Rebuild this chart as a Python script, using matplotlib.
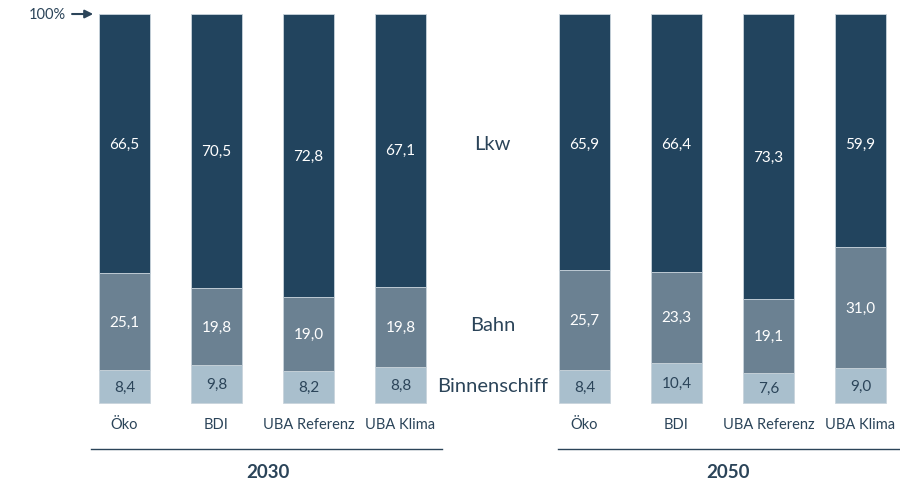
import matplotlib
matplotlib.use("Agg")
import matplotlib.pyplot as plt
import numpy as np

plt.rcParams['font.family'] = ['Lato', 'DejaVu Sans']

# Modal split of freight transport by scenario (percent)
scenarios = ["Öko", "BDI", "UBA Referenz", "UBA Klima"]
years = ["2030", "2050"]
modes = ["Lkw", "Bahn", "Binnenschiff"]

lkw_2030 = [66.5, 70.5, 72.8, 67.1]
bahn_2030 = [25.1, 19.8, 19.0, 19.8]
schiff_2030 = [8.4, 9.8, 8.2, 8.8]

lkw_2050 = [65.9, 66.4, 73.3, 59.9]
bahn_2050 = [25.7, 23.3, 19.1, 31.0]
schiff_2050 = [8.4, 10.4, 7.6, 9.0]

col_lkw = "#22445e"
col_bahn = "#6b8192"
col_schiff = "#a9bfcd"
col_text = "#2b4459"
edge = "#c9d4dc"

fig = plt.figure(figsize=(9, 4.85), dpi=100)
ax = fig.add_axes([0, 0, 1, 1])
ax.set_xlim(-1.353, 8.429)
ax.set_ylim(-20.82, 103.86)
ax.axis("off")

width = 0.555

def fmt(v):
    return f"{v:.1f}".replace(".", ",")

groups = [
    (np.arange(4), lkw_2030, bahn_2030, schiff_2030),
    (np.arange(4) + 5, lkw_2050, bahn_2050, schiff_2050),
]

for xs, lkw, bahn, schiff in groups:
    lkw = np.array(lkw); bahn = np.array(bahn); schiff = np.array(schiff)
    total = lkw + bahn + schiff
    s = schiff / total * 100
    b = bahn / total * 100
    l = lkw / total * 100
    ax.bar(xs, s, width, color=col_schiff, edgecolor=edge, linewidth=0.6)
    ax.bar(xs, b, width, bottom=s, color=col_bahn, edgecolor=edge, linewidth=0.6)
    ax.bar(xs, l, width, bottom=s + b, color=col_lkw, edgecolor=edge, linewidth=0.6)
    for i, x in enumerate(xs):
        ax.text(x, s[i] / 2, fmt(schiff[i]), ha="center", va="center",
                color=col_text, fontsize=11)
        ax.text(x, s[i] + b[i] / 2, fmt(bahn[i]), ha="center", va="center",
                color="white", fontsize=11)
        ax.text(x, min(s[i] + b[i] + l[i] / 2, 66.6), fmt(lkw[i]),
                ha="center", va="center", color="white", fontsize=11)
        ax.text(x, -5.4, scenarios[i], ha="center", va="center",
                color=col_text, fontsize=10.5)

# Mode labels in the gap between the two year groups
for name, y in zip(modes, [66.6, 20.3, 4.6]):
    ax.text(4.0, y, name, ha="center", va="center", color=col_text, fontsize=14.5)

# Year brackets
ax.plot([-0.365, 3.45], [-11.8, -11.8], color=col_text, lw=1.0)
ax.plot([4.71, 8.43], [-11.8, -11.8], color=col_text, lw=1.0)
ax.text(1.56, -17.5, years[0], ha="center", va="center", color=col_text,
        fontsize=13.5, fontweight="bold")
ax.text(6.56, -17.5, years[1], ha="center", va="center", color=col_text,
        fontsize=13.5, fontweight="bold")

# 100 % marker
ax.text(-0.636, 100, "100%", ha="right", va="center", color=col_text, fontsize=10.5)
ax.annotate("", xy=(-0.31, 100), xytext=(-0.60, 100),
            arrowprops=dict(arrowstyle="-|>", color=col_text, lw=1.5,
                            mutation_scale=12))

fig.savefig("out.png", dpi=100)
